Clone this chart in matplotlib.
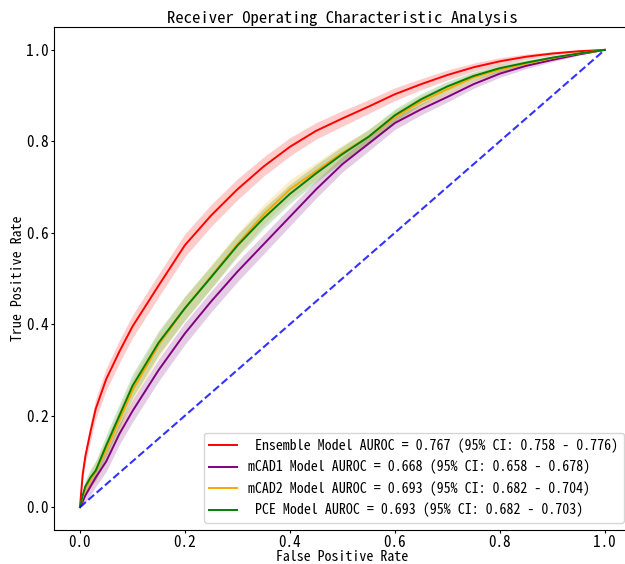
import numpy as np
import matplotlib
matplotlib.use("Agg")
import matplotlib.pyplot as plt

plt.rcParams['font.family'] = ['Noto Sans Mono CJK KR', 'Noto Sans CJK KR', 'DejaVu Sans']

# false positive rate grid shared by all curves
fpr = [0.0, 0.005, 0.01, 0.02, 0.03, 0.05, 0.075, 0.1, 0.15, 0.2, 0.25, 0.3, 0.35,
       0.4, 0.45, 0.5, 0.55, 0.6, 0.65, 0.7, 0.75, 0.8, 0.85, 0.9, 0.95, 1.0]

tpr_ensemble = [0.0, 0.07, 0.11, 0.165, 0.215, 0.28, 0.34, 0.395, 0.485, 0.573, 0.638, 0.695, 0.745,
                0.788, 0.823, 0.85, 0.876, 0.903, 0.925, 0.945, 0.962, 0.975, 0.985, 0.992, 0.997, 1.0]
tpr_mcad1 = [0.0, 0.012, 0.025, 0.045, 0.065, 0.1, 0.16, 0.21, 0.3, 0.38, 0.45, 0.515, 0.575,
             0.635, 0.695, 0.75, 0.795, 0.84, 0.87, 0.897, 0.925, 0.948, 0.965, 0.978, 0.99, 1.0]
tpr_mcad2 = [0.0, 0.022, 0.04, 0.06, 0.078, 0.125, 0.19, 0.255, 0.355, 0.435, 0.505, 0.575, 0.64,
             0.695, 0.735, 0.775, 0.81, 0.853, 0.887, 0.914, 0.94, 0.957, 0.97, 0.982, 0.992, 1.0]
tpr_pce = [0.0, 0.025, 0.045, 0.065, 0.08, 0.135, 0.2, 0.265, 0.36, 0.435, 0.503, 0.572, 0.632,
           0.685, 0.73, 0.772, 0.81, 0.857, 0.892, 0.92, 0.943, 0.96, 0.972, 0.983, 0.992, 1.0]

# half width of the confidence band around each curve
ci_ensemble = [0.0, 0.012, 0.016, 0.02, 0.022, 0.024, 0.025, 0.025, 0.025, 0.025, 0.024, 0.023, 0.021,
               0.02, 0.018, 0.017, 0.015, 0.014, 0.012, 0.011, 0.009, 0.008, 0.006, 0.004, 0.002, 0.0]
ci_mcad1 = [0.0, 0.01, 0.014, 0.018, 0.02, 0.022, 0.023, 0.024, 0.024, 0.024, 0.023, 0.022, 0.021,
            0.02, 0.019, 0.017, 0.016, 0.014, 0.012, 0.011, 0.009, 0.008, 0.006, 0.004, 0.002, 0.0]
ci_mcad2 = [0.0, 0.01, 0.014, 0.018, 0.021, 0.023, 0.025, 0.026, 0.026, 0.026, 0.025, 0.024, 0.022,
            0.021, 0.019, 0.017, 0.016, 0.014, 0.012, 0.011, 0.009, 0.008, 0.006, 0.004, 0.002, 0.0]
ci_pce = [0.0, 0.01, 0.014, 0.018, 0.021, 0.023, 0.025, 0.026, 0.026, 0.026, 0.025, 0.024, 0.022,
          0.021, 0.019, 0.017, 0.016, 0.014, 0.012, 0.011, 0.009, 0.008, 0.006, 0.004, 0.002, 0.0]

labels = [' Ensemble Model AUROC = 0.767 (95% CI: 0.758 - 0.776)',
          'mCAD1 Model AUROC = 0.668 (95% CI: 0.658 - 0.678)',
          'mCAD2 Model AUROC = 0.693 (95% CI: 0.682 - 0.704)',
          ' PCE Model AUROC = 0.693 (95% CI: 0.682 - 0.703)']
colors = ['red', 'purple', 'orange', 'green']

fig = plt.figure(figsize=(6.25, 5.64), dpi=100)
ax = fig.add_axes([0.086, 0.0603, 0.9236, 0.8918])

curves = [tpr_ensemble, tpr_mcad1, tpr_mcad2, tpr_pce]
bands = [ci_ensemble, ci_mcad1, ci_mcad2, ci_pce]
x = np.array(fpr)
for tpr, ci, label, color in zip(curves, bands, labels, colors):
    tpr = np.array(tpr)
    ci = np.array(ci)
    ax.plot(x, tpr, color=color, lw=1.4, label=label)
    ax.fill_between(x, tpr - ci, tpr + ci, color=color, alpha=0.2, lw=0)

ax.plot([0, 1], [0, 1], linestyle='--', color='b', lw=1.5, alpha=0.8)

ax.set_title('Receiver Operating Characteristic Analysis', fontsize=12, pad=3)
ax.set_xlabel('False Positive Rate', fontsize=10, labelpad=0)
ax.set_ylabel('True Positive Rate', fontsize=10, labelpad=1)
ax.tick_params(labelsize=11, length=2, pad=1.5)
ax.set_xlim(-0.05, 1.05)
ax.set_ylim(-0.05, 1.05)
ax.legend(loc='lower right', fontsize=10)

fig.savefig('out.png', dpi=100)
